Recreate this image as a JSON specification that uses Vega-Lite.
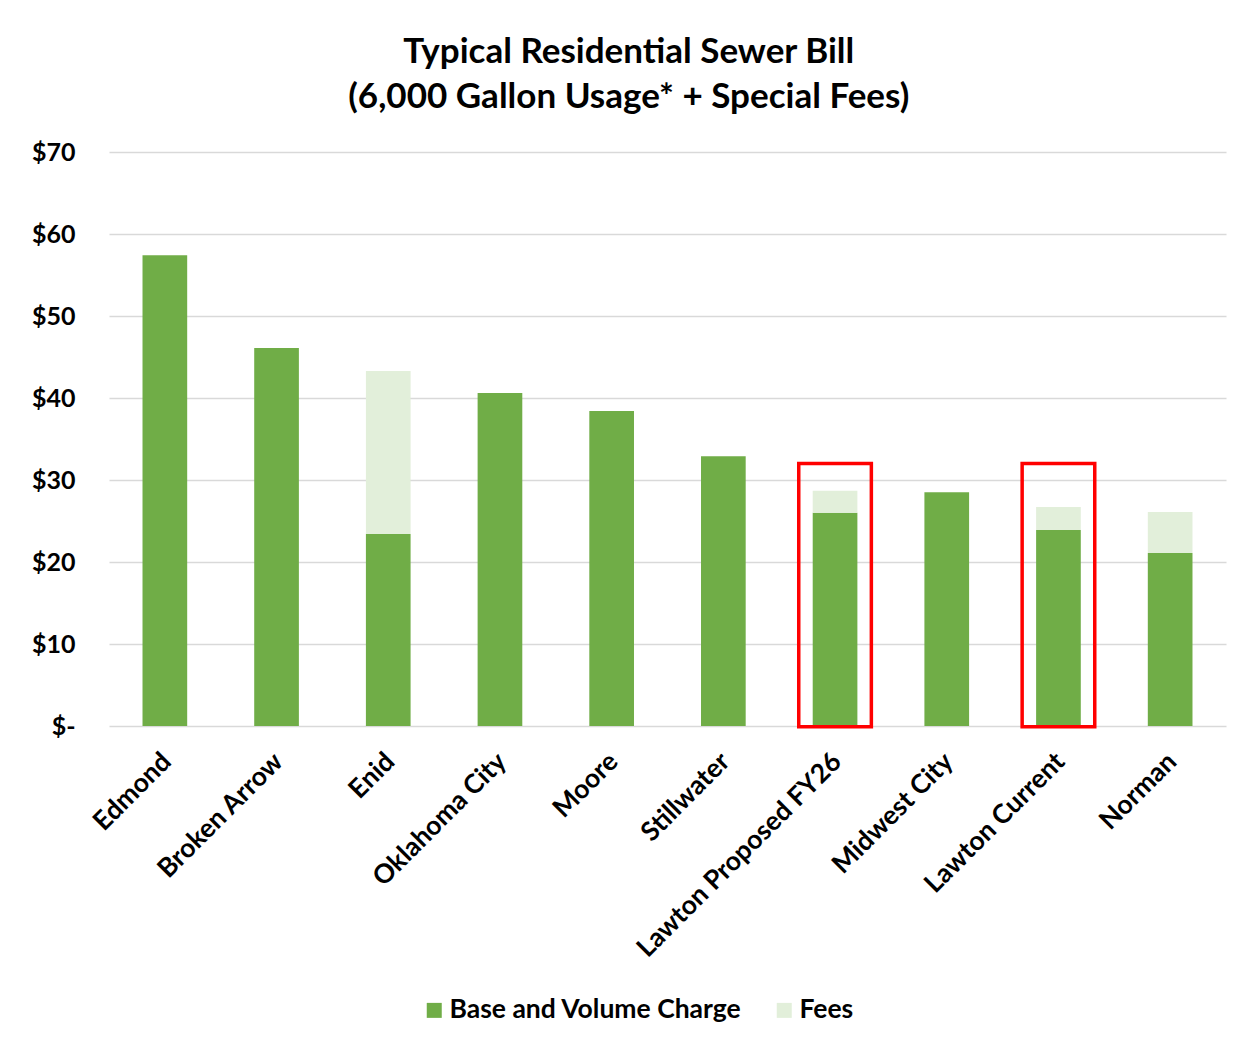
{
  "$schema": "https://vega.github.io/schema/vega-lite/v6.json",
  "autosize": "none",
  "width": 1117,
  "height": 574,
  "padding": {"left": 109, "top": 152, "right": 26, "bottom": 321},
  "background": "white",
  "config": {
    "font": "Lato",
    "view": {"stroke": null}
  },
  "title": {
    "text": ["Typical Residential Sewer Bill", "(6,000 Gallon Usage* + Special Fees)"],
    "font": "Lato",
    "fontSize": 35,
    "fontWeight": "bold",
    "color": "#000000",
    "anchor": "middle",
    "frame": "bounds",
    "lineHeight": 45,
    "offset": 25
  },
  "datasets": {
    "bills": [
      {"city": "Edmond", "type": "Base and Volume Charge", "order": 1, "amount": 57.4},
      {"city": "Broken Arrow", "type": "Base and Volume Charge", "order": 1, "amount": 46.1},
      {"city": "Enid", "type": "Base and Volume Charge", "order": 1, "amount": 23.4},
      {"city": "Enid", "type": "Fees", "order": 2, "amount": 19.9},
      {"city": "Oklahoma City", "type": "Base and Volume Charge", "order": 1, "amount": 40.6},
      {"city": "Moore", "type": "Base and Volume Charge", "order": 1, "amount": 38.4},
      {"city": "Stillwater", "type": "Base and Volume Charge", "order": 1, "amount": 32.9},
      {"city": "Lawton Proposed FY26", "type": "Base and Volume Charge", "order": 1, "amount": 26.0},
      {"city": "Lawton Proposed FY26", "type": "Fees", "order": 2, "amount": 2.7},
      {"city": "Midwest City", "type": "Base and Volume Charge", "order": 1, "amount": 28.5},
      {"city": "Lawton Current", "type": "Base and Volume Charge", "order": 1, "amount": 23.9},
      {"city": "Lawton Current", "type": "Fees", "order": 2, "amount": 2.8},
      {"city": "Norman", "type": "Base and Volume Charge", "order": 1, "amount": 21.1},
      {"city": "Norman", "type": "Fees", "order": 2, "amount": 5.0}
    ],
    "highlights": [
      {"city": "Lawton Proposed FY26", "top": 32.0, "bottom": -0.1},
      {"city": "Lawton Current", "top": 32.0, "bottom": -0.1}
    ]
  },
  "encoding": {
    "x": {
      "field": "city",
      "type": "nominal",
      "sort": ["Edmond", "Broken Arrow", "Enid", "Oklahoma City", "Moore", "Stillwater", "Lawton Proposed FY26", "Midwest City", "Lawton Current", "Norman"],
      "scale": {"paddingInner": 0, "paddingOuter": 0},
      "axis": {
        "title": null,
        "labelAngle": -45,
        "labelFontSize": 26.5,
        "labelFontWeight": "bold",
        "labelColor": "#000000",
        "labelPadding": 22,
        "labelOffset": -7,
        "labelLimit": 0,
        "ticks": false,
        "domain": false,
        "labelOverlap": false
      }
    }
  },
  "layer": [
    {
      "data": {"name": "bills"},
      "mark": {"type": "bar", "width": {"band": 0.4}},
      "encoding": {
        "y": {
          "field": "amount",
          "type": "quantitative",
          "stack": "zero",
          "scale": {"domain": [0, 70], "nice": false},
          "axis": {
            "title": null,
            "values": [0, 10, 20, 30, 40, 50, 60, 70],
            "labelExpr": "datum.value == 0 ? '$-' : '$' + datum.value",
            "labelFontSize": 25,
            "labelFontWeight": "bold",
            "labelColor": "#000000",
            "labelPadding": 34,
            "ticks": false,
            "domain": false,
            "gridColor": "#d9d9d9",
            "gridWidth": 1.5
          }
        },
        "color": {
          "field": "type",
          "type": "nominal",
          "scale": {"domain": ["Base and Volume Charge", "Fees"], "range": ["#70ad47", "#e2efda"]},
          "legend": {
            "title": null,
            "orient": "none",
            "legendX": 312,
            "legendY": 845,
            "direction": "horizontal",
            "symbolType": "square",
            "symbolSize": 225,
            "symbolStrokeWidth": 0,
            "labelFontSize": 26.5,
            "labelFontWeight": "bold",
            "labelColor": "#000000",
            "labelLimit": 0,
            "labelOffset": 2,
            "columnPadding": 29
          }
        },
        "order": {"field": "order", "type": "quantitative"}
      }
    },
    {
      "data": {"name": "highlights"},
      "mark": {"type": "bar", "width": {"band": 0.65}, "fill": null, "fillOpacity": 0, "stroke": "#ff0000", "strokeWidth": 3.5},
      "encoding": {
        "y": {"field": "top", "type": "quantitative"},
        "y2": {"field": "bottom"}
      }
    }
  ]
}
